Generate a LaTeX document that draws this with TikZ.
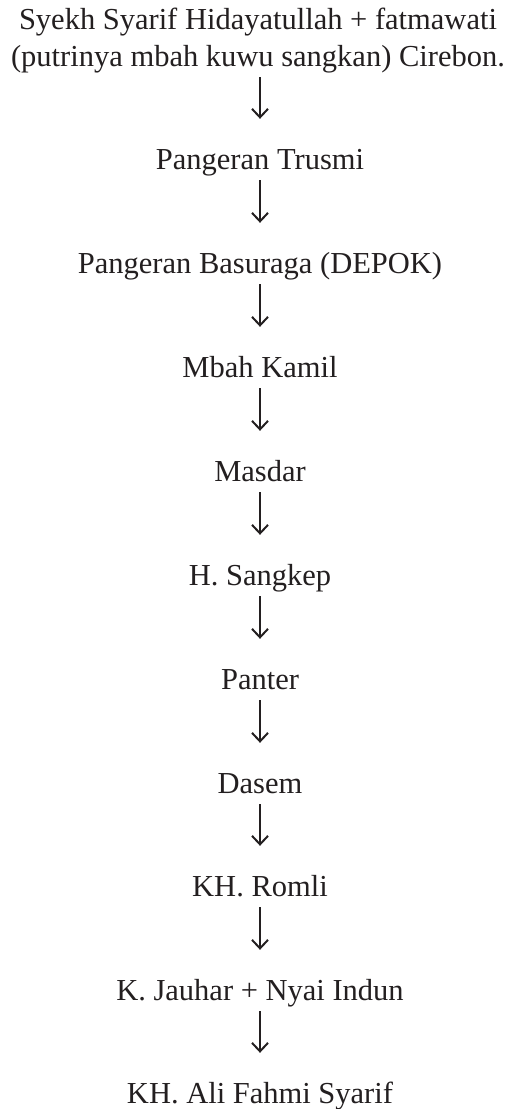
\documentclass[tikz,border=0pt]{standalone}
\usepackage{fontspec}
\setmainfont{Liberation Serif}
\usetikzlibrary{arrows.meta}
\definecolor{ink}{HTML}{231F20}
\tikzset{
  person/.style={anchor=base, inner sep=0pt, text height=20pt, text depth=7pt,
    text=ink, font=\fontsize{30.5}{37}\selectfont},
  descent/.style={draw=ink, line width=2pt,
    -{Straight Barb[length=8.5pt, width=16pt, line width=2pt]}}
}
\begin{document}
\begin{tikzpicture}[x=1pt, y=-1pt]
  \useasboundingbox (0,0) rectangle (517,1109);
  % two-line first entry; its base anchor sits on the last line
  \node[person, align=center] (n0) at (258,66)
    {Syekh Syarif Hidayatullah + fatmawati\\(putrinya mbah kuwu sangkan) Cirebon.};
  \node[person] (n1)  at (260,169)  {Pangeran Trusmi};
  \node[person] (n2)  at (260,273)  {Pangeran Basuraga (DEPOK)};
  \node[person] (n3)  at (260,377)  {Mbah Kamil};
  \node[person] (n4)  at (260,481)  {Masdar};
  \node[person] (n5)  at (260,585)  {H. Sangkep};
  \node[person] (n6)  at (260,689)  {Panter};
  \node[person] (n7)  at (260,793)  {Dasem};
  \node[person] (n8)  at (260,896)  {KH. Romli};
  \node[person] (n9)  at (260,1000) {K. Jauhar + Nyai Indun};
  \node[person] (n10) at (260,1103) {KH. Ali Fahmi Syarif};
  \draw[descent] ([xshift=2pt,yshift=-4pt]n0.south) -- ([yshift=30pt]n1.north);
  \foreach \a/\b in {n1/n2, n2/n3, n3/n4, n4/n5, n5/n6, n6/n7, n7/n8, n8/n9, n9/n10}
    \draw[descent] ([yshift=-4pt]\a.south) -- ([yshift=30pt]\b.north);
\end{tikzpicture}
\end{document}
